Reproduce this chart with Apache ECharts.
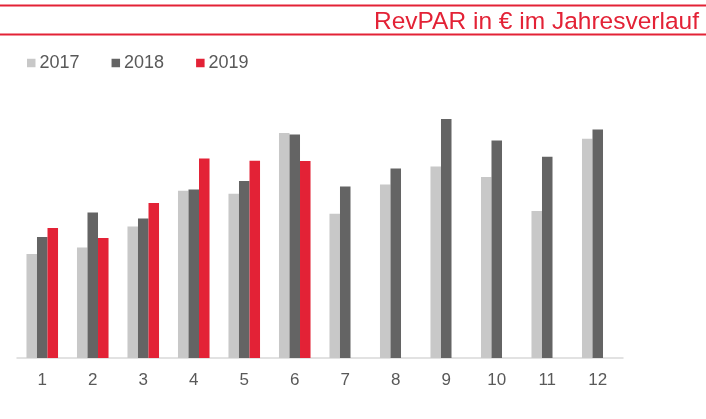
<!DOCTYPE html>
<html>
<head>
<meta charset="utf-8">
<script src="https://cdn.jsdelivr.net/npm/echarts@6/dist/echarts.min.js"></script>
<style>html,body{margin:0;padding:0;background:#fff}#c{width:706px;height:419px}</style>
</head>
<body>
<div id="c"></div>
<script>
const months = ['1','2','3','4','5','6','7','8','9','10','11','12'];
const seriesNames = ['2017','2018','2019'];
const values2017 = [52.0, 55.3, 65.8, 83.6, 82.1, 112.5, 72.1, 86.8, 95.8, 90.5, 73.5, 109.6];
const values2018 = [60.5, 72.8, 69.8, 84.3, 88.5, 111.8, 85.8, 94.8, 119.5, 108.8, 100.6, 114.3];
const values2019 = [65.0, 60.0, 77.5, 99.8, 98.6, 98.5];
const titleText = 'RevPAR in € im Jahresverlauf';

const colors = ['#c8c8c8', '#646464', '#e32236'];
const chart = echarts.init(document.getElementById('c'), null, {renderer: 'canvas'});
const dataSets = [values2017, values2018, values2019];
chart.setOption({
  animation: false,
  color: colors,
  title: {
    text: titleText,
    right: 2,
    top: 5,
    textStyle: {color: '#e32236', fontSize: 24.5, fontWeight: 'normal', fontFamily: 'Liberation Sans, Arial, sans-serif'}
  },
  graphic: [
    {type: 'rect', shape: {x: 0, y: 4.5, width: 706, height: 2}, style: {fill: '#e32236'}, silent: true},
    {type: 'rect', shape: {x: 0, y: 33.5, width: 706, height: 2}, style: {fill: '#e32236'}, silent: true}
  ],
  legend: {
    left: 22,
    top: 49,
    itemWidth: 8.5,
    itemHeight: 8.5,
    itemGap: 32,
    icon: 'rect',
    data: seriesNames,
    textStyle: {color: '#595959', fontSize: 18, fontFamily: 'Liberation Sans, Arial, sans-serif', padding: [0,0,0,-1]}
  },
  grid: {left: 17, right: 83, top: 118, bottom: 61, containLabel: false},
  xAxis: {
    type: 'category',
    data: months,
    axisLine: {lineStyle: {color: '#d9d9d9', width: 1.5}},
    axisTick: {show: false},
    axisLabel: {color: '#595959', fontSize: 17, margin: 14, fontFamily: 'Liberation Sans, Arial, sans-serif'}
  },
  yAxis: {
    type: 'value', min: 0, max: 120,
    show: false,
    splitLine: {show: false}
  },
  series: seriesNames.map((n, i) => ({
    name: n,
    type: 'bar',
    data: dataSets[i],
    barGap: '0%',
    barCategoryGap: '37.5%',
    itemStyle: {color: colors[i]}
  }))
});
</script>
</body>
</html>
